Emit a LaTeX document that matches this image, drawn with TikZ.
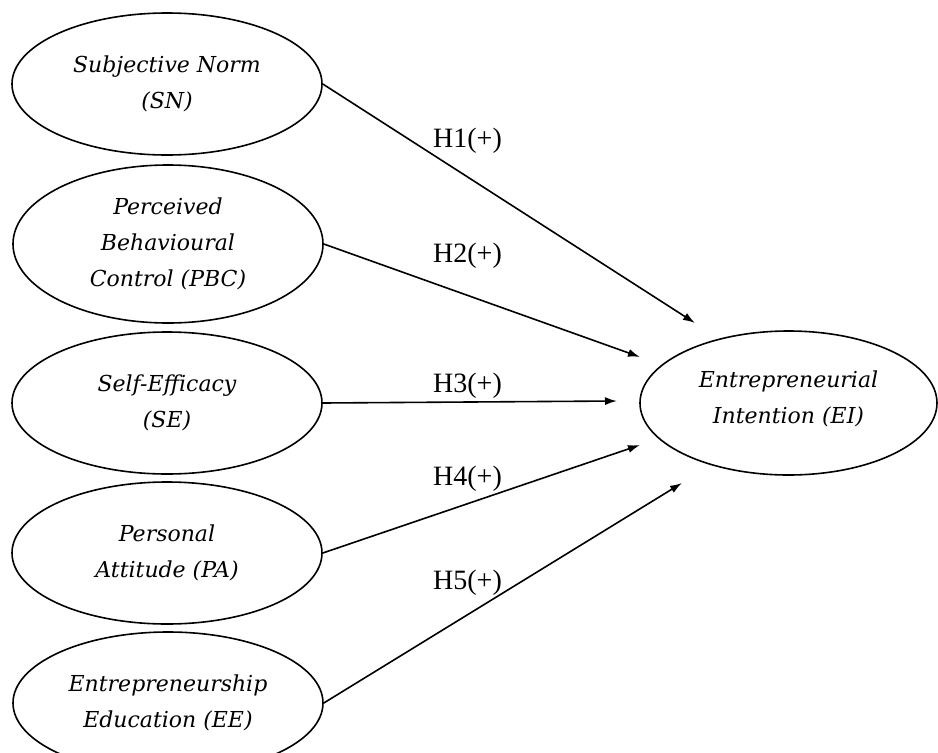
\documentclass[tikz,border=0pt]{standalone}
\usepackage{fontspec}
\setmainfont{Liberation Serif}
\newfontfamily\ellfont{DejaVu Serif}
\usetikzlibrary{shapes.geometric,arrows.meta}
\tikzset{
  latent/.style={draw, ellipse, line width=1.6pt, inner sep=0pt,
    minimum width=310pt, minimum height=142pt, align=center,
    font=\ellfont\itshape\fontsize{22}{36}\selectfont},
  path/.style={line width=1.6pt, -{Latex[length=12pt,width=8pt]}},
  hlabel/.style={font=\fontsize{28}{30}\selectfont, inner sep=0pt, anchor=west}
}
\begin{document}
\begin{tikzpicture}[x=1pt,y=-1pt]
\clip (0,0) rectangle (938,753);
\node[latent] (sn) at (167,84) {Subjective Norm\\(SN)};
\node[latent, minimum height=158pt] (pbc) at (168,244) {Perceived\\Behavioural\\Control (PBC)};
\node[latent] (se) at (167,403) {Self-Efficacy\\(SE)};
\node[latent] (pa) at (167,553) {Personal\\Attitude (PA)};
\node[latent] (ee) at (168,703) {Entrepreneurship\\Education (EE)};
\node[latent, minimum width=297pt, minimum height=144pt] (ei) at (788.5,403) {Entrepreneurial\\Intention (EI)\\[-24pt]};
\coordinate (t1) at (695,323);
\coordinate (t2) at (640,357);
\coordinate (t3) at (617,401);
\coordinate (t4) at (640,445);
\coordinate (t5) at (682,483);
\draw[path] (sn.east) -- (t1);
\draw[path] (pbc.east) -- (t2);
\draw[path] (se.east) -- (t3);
\draw[path] (pa.east) -- (t4);
\draw[path] (ee.east) -- (t5);
\node[hlabel] (h1) at (433,141) {H1(+)};
\node[hlabel] (h2) at (433,256) {H2(+)};
\node[hlabel] (h3) at (433,386) {H3(+)};
\node[hlabel] (h4) at (433,479) {H4(+)};
\node[hlabel] (h5) at (433,583) {H5(+)};
\end{tikzpicture}
\end{document}
